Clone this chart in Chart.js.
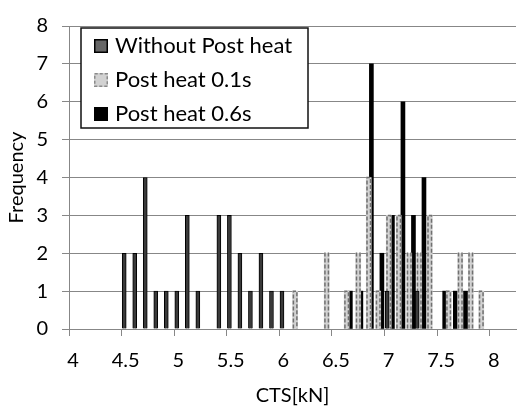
<!DOCTYPE html>
<html>
<head>
<meta charset="utf-8">
<script src="https://cdn.jsdelivr.net/npm/chart.js@4/dist/chart.umd.min.js"></script>
<style>
    html, body { margin: 0; padding: 0; background: #fff; }
    #wrap { width: 518px; height: 406px; }
</style>
</head>
<body>
<div id="wrap"><canvas id="ctsChart" width="518" height="406"></canvas></div>
<script>
// values
const seriesNames = ['Without Post heat', 'Post heat 0.1s', 'Post heat 0.6s'];

const withoutX = [4.525, 4.625, 4.725, 4.825, 4.925, 5.025, 5.125, 5.225, 5.425, 5.525, 5.625, 5.725, 5.825, 5.925, 6.025, 7.025, 7.31];
const withoutFreq = [2, 2, 4, 1, 1, 1, 3, 1, 3, 3, 2, 1, 2, 1, 1, 1, 1];

const heat01X = [6.15, 6.45, 6.64, 6.75, 6.85, 6.94, 7.04, 7.135, 7.235, 7.33, 7.43, 7.61, 7.72, 7.82, 7.92];
const heat01Freq = [1, 2, 1, 2, 4, 1, 3, 3, 2, 2, 3, 1, 2, 2, 1];

const heat06X = [6.675, 6.775, 6.875, 6.975, 7.075, 7.175, 7.275, 7.375, 7.572, 7.673, 7.77];
const heat06Freq = [1, 1, 7, 2, 3, 6, 3, 4, 1, 1, 1];

const xTicks = [4, 4.5, 5, 5.5, 6, 6.5, 7, 7.5, 8];
const yTicks = [0, 1, 2, 3, 4, 5, 6, 7, 8];

const FONT = 'Lato, "Open Sans", sans-serif';
const GRID = '#878787';

function toPoints(xs, ys) {
    return xs.map((x, i) => ({ x: x, y: ys[i] }));
}

// dashed outline for the 0.1s bars (bar element has no borderDash)
const dashedBars = {
    id: 'dashedBars',
    afterDatasetDraw(chart, args) {
        if (args.index !== 1) return;
        const ctx = chart.ctx;
        ctx.save();
        ctx.strokeStyle = '#707070';
        ctx.lineWidth = 1.5;
        ctx.setLineDash([4, 2]);
        args.meta.data.forEach(bar => {
            const p = bar.getProps(['x', 'y', 'base', 'width'], true);
            const l = p.x - p.width / 2 + 0.75;
            const r = p.x + p.width / 2 - 0.75;
            ctx.beginPath();
            ctx.moveTo(l, p.base);
            ctx.lineTo(l, p.y);
            ctx.lineTo(r, p.y);
            ctx.lineTo(r, p.base);
            ctx.stroke();
        });
        ctx.restore();
    }
};

// boxed legend sitting inside the plot, top left
const boxLegend = {
    id: 'boxLegend',
    afterDraw(chart) {
        const ctx = chart.ctx;
        const left = 81, top = 28, w = 227, h = 100;
        ctx.save();
        ctx.fillStyle = '#fff';
        ctx.fillRect(left, top, w, h);
        ctx.strokeStyle = '#111';
        ctx.lineWidth = 1.5;
        ctx.strokeRect(left, top, w, h);

        ctx.font = '22px ' + FONT;
        ctx.textBaseline = 'middle';
        chart.data.datasets.forEach((ds, i) => {
            const cy = top + 18 + i * 34;
            const sx = left + 13, sy = cy - 7, s = 14;
            ctx.setLineDash(i === 1 ? [3, 2] : []);
            ctx.fillStyle = i === 0 ? '#666' : ds.backgroundColor;
            ctx.fillRect(sx, sy, s, s);
            ctx.strokeStyle = i === 1 ? '#8a8a8a' : '#000';
            ctx.lineWidth = 1.5;
            ctx.strokeRect(sx + 0.75, sy + 0.75, s - 1.5, s - 1.5);
            ctx.setLineDash([]);
            ctx.fillStyle = '#000';
            ctx.fillText(ds.label, left + 34, cy);
        });
        ctx.restore();
    }
};

const config = {
    type: 'bar',
    data: {
        datasets: [{
            label: seriesNames[0],
            data: toPoints(withoutX, withoutFreq),
            backgroundColor: '#3a3a3a',
            borderColor: '#000',
            borderWidth: 1,
            barThickness: 4,
            grouped: false
        }, {
            label: seriesNames[1],
            data: toPoints(heat01X, heat01Freq),
            backgroundColor: '#d2d2d2',
            borderWidth: 0,
            barThickness: 5,
            grouped: false
        }, {
            label: seriesNames[2],
            data: toPoints(heat06X, heat06Freq),
            backgroundColor: '#000',
            borderWidth: 0,
            barThickness: 4,
            grouped: false
        }]
    },
    options: {
        responsive: false,
        animation: false,
        layout: { padding: { top: 20, right: 2, bottom: 0, left: 0 } },
        plugins: {
            legend: { display: false },
            tooltip: { enabled: false }
        },
        scales: {
            x: {
                type: 'linear',
                min: 4,
                max: 8.25,
                offset: false,
                afterBuildTicks: scale => { scale.ticks = xTicks.map(v => ({ value: v })); },
                afterFit: scale => { scale.height = 77; },
                grid: {
                    offset: false,
                    drawOnChartArea: false,
                    drawTicks: true,
                    tickLength: 7,
                    color: GRID
                },
                border: { color: GRID, width: 1 },
                ticks: {
                    callback: v => String(v),
                    color: '#000',
                    font: { family: FONT, size: 20 },
                    padding: 13,
                    labelOffset: 4,
                    maxRotation: 0
                },
                title: {
                    display: true,
                    text: 'CTS[kN]',
                    color: '#000',
                    font: { family: FONT, size: 20, lineHeight: 1.0 },
                    padding: { top: 0, bottom: 0 }
                }
            },
            y: {
                min: 0,
                max: 8,
                afterBuildTicks: scale => { scale.ticks = yTicks.map(v => ({ value: v })); },
                afterFit: scale => { scale.width = 69; },
                grid: {
                    color: GRID,
                    lineWidth: 1,
                    drawTicks: true,
                    tickLength: 7
                },
                border: { color: GRID, width: 1 },
                ticks: {
                    color: '#000',
                    font: { family: FONT, size: 20 },
                    padding: 14
                },
                title: {
                    display: true,
                    text: 'Frequency',
                    color: '#000',
                    font: { family: FONT, size: 20 },
                    padding: { top: 5, bottom: 0 }
                }
            }
        }
    },
    plugins: [dashedBars, boxLegend]
};

const ctsChart = new Chart(document.getElementById('ctsChart'), config);
</script>
</body>
</html>
